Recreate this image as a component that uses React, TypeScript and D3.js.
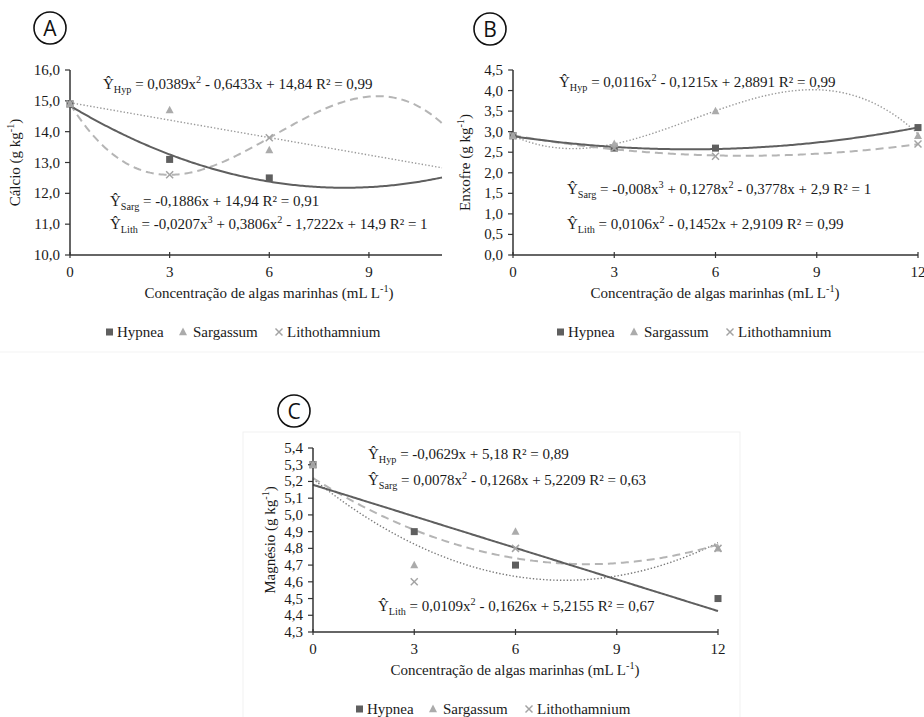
import React from 'react';
import * as d3 from 'd3';

// ---------- DATA ----------
const xLevelsA = [0, 3, 6];
const xLevels = [0, 3, 6, 12];

const calcioHypnea = [14.9, 13.1, 12.5];
const calcioSargassum = [14.9, 14.7, 13.4];
const calcioLitho = [14.9, 12.6, 13.8];

const enxofreHypnea = [2.9, 2.6, 2.6, 3.1];
const enxofreSargassum = [2.9, 2.7, 3.5, 2.9];
const enxofreLitho = [2.9, 2.6, 2.4, 2.7];

const magnesioHypnea = [5.3, 4.9, 4.7, 4.5];
const magnesioSargassum = [5.3, 4.7, 4.9, 4.8];
const magnesioLitho = [5.3, 4.6, 4.8, 4.8];

// trendline coefficients (ascending powers), as printed in the chart
const calcioHypCoef = [14.84, -0.6433, 0.0389];
const calcioSargCoef = [14.94, -0.1886];
const calcioLithCoef = [14.9, -1.7222, 0.3806, -0.0207];
const enxofreHypCoef = [2.8891, -0.1215, 0.0116];
const enxofreSargCoef = [2.9, -0.3778, 0.1278, -0.008];
const enxofreLithCoef = [2.9109, -0.1452, 0.0106];
const magnesioHypCoef = [5.18, -0.0629];
const magnesioSargCoef = [5.2209, -0.1268, 0.0078];
const magnesioLithCoef = [5.2155, -0.1626, 0.0109];

const xTicksA = [0, 3, 6, 9];
const xTicksBC = [0, 3, 6, 9, 12];
const yTicksA = [10, 11, 12, 13, 14, 15, 16];
const yTicksB = [0, 0.5, 1, 1.5, 2, 2.5, 3, 3.5, 4, 4.5];
const yTicksC = [4.3, 4.4, 4.5, 4.6, 4.7, 4.8, 4.9, 5.0, 5.1, 5.2, 5.3, 5.4];

const eqA = [
  'Ŷ_{Hyp} = 0,0389x^{2} - 0,6433x + 14,84 R² = 0,99',
  'Ŷ_{Sarg} = -0,1886x + 14,94 R² = 0,91',
  'Ŷ_{Lith} = -0,0207x^{3} + 0,3806x^{2} - 1,7222x + 14,9 R² = 1',
];
const eqB = [
  'Ŷ_{Hyp} = 0,0116x^{2} - 0,1215x + 2,8891 R² = 0,99',
  'Ŷ_{Sarg} = -0,008x^{3} + 0,1278x^{2} - 0,3778x + 2,9 R² = 1',
  'Ŷ_{Lith} = 0,0106x^{2} - 0,1452x + 2,9109 R² = 0,99',
];
const eqC = [
  'Ŷ_{Hyp} = -0,0629x + 5,18 R² = 0,89',
  'Ŷ_{Sarg} = 0,0078x^{2} - 0,1268x + 5,2209 R² = 0,63',
  'Ŷ_{Lith} = 0,0109x^{2} - 0,1626x + 5,2155 R² = 0,67',
];

const xTitle = 'Concentração de algas marinhas (mL L^{-1})';
const seriesNames = ['Hypnea', 'Sargassum', 'Lithothamnium'];

// ---------- STYLE ----------
const FONT = 'Liberation Serif';
const HYP_COLOR = '#5f5f5f';
const SARG_COLOR = '#ababab';
const LITH_COLOR = '#a3a3a3';
const AXIS_COLOR = '#333';
const TEXT_COLOR = '#1a1a1a';

const poly = (c: number[]) => (x: number) => c.reduce((s, a, i) => s + a * Math.pow(x, i), 0);

function Rich({ x, y, str, size = 15, anchor = 'start', transform }: any) {
  const parts = str.split(/(_\{[^}]*\}|\^\{[^}]*\})/).filter((p: string) => p.length);
  let off = 0;
  return (
    <text x={x} y={y} textAnchor={anchor} transform={transform} fontFamily={FONT} fontSize={size} fill={TEXT_COLOR}>
      {parts.map((p: string, i: number) => {
        let target = 0;
        let fs = size;
        let t = p;
        if (p.startsWith('_{')) { target = size * 0.28; fs = size * 0.68; t = p.slice(2, -1); }
        else if (p.startsWith('^{')) { target = -size * 0.38; fs = size * 0.68; t = p.slice(2, -1); }
        const dy = target - off;
        off = target;
        return <tspan key={i} dy={dy} fontSize={fs}>{t}</tspan>;
      })}
    </text>
  );
}

function Marker({ type, cx, cy }: any) {
  if (type === 0) return <rect x={cx - 3.5} y={cy - 3.5} width={7} height={7} fill={HYP_COLOR} />;
  if (type === 1) {
    const s = 8;
    const pts = [[cx, cy - s * 0.55], [cx - s / 2, cy + s * 0.4], [cx + s / 2, cy + s * 0.4]];
    return <polygon points={pts.map((p) => p.join(',')).join(' ')} fill={SARG_COLOR} />;
  }
  const r = 3.5;
  return (
    <g stroke={LITH_COLOR} strokeWidth={1.5}>
      <line x1={cx - r} y1={cy - r} x2={cx + r} y2={cy + r} />
      <line x1={cx - r} y1={cy + r} x2={cx + r} y2={cy - r} />
    </g>
  );
}

function Legend({ x, y }: any) {
  const offs = [[3.5, 11], [77, 87], [173, 181]];
  return (
    <g>
      {seriesNames.map((n, i) => (
        <g key={n}>
          <Marker type={i} cx={x + offs[i][0]} cy={y - 5} />
          <text x={x + offs[i][1]} y={y} fontFamily={FONT} fontSize={15} fill={TEXT_COLOR}>{n}</text>
        </g>
      ))}
    </g>
  );
}

function Panel(props: any) {
  const { x0, x1, xMax, y0, y1, yDomain, yTicks, xTicks, xs, series, curves, eqs, eqPos, yTitle, yTitleX, legendX, label, labelPos, xTitleX } = props;
  const xScale = d3.scaleLinear().domain([0, xMax]).range([x0, x1]);
  const ys = d3.scaleLinear().domain(yDomain).range([y0, y1]);
  const fmt = (v: number) => v.toFixed(1).replace('.', ',');
  const pts = d3.range(0, xMax + 0.0001, xMax / 200);
  return (
    <g>
      <circle cx={labelPos[0]} cy={labelPos[1]} r={16} fill="none" stroke="#111" strokeWidth={1.6} />
      <text x={labelPos[0]} y={labelPos[1] + 7.5} textAnchor="middle" fontFamily="Open Sans" fontSize={21} fill="#111">{label}</text>

      {curves.map((c: any, i: number) => {
        const f = poly(c.coef);
        const path = d3.line<number>().x((d) => xScale(d)).y((d) => ys(f(d)))(pts);
        return <path key={i} d={path || ''} fill="none" stroke={c.color} strokeWidth={c.width} strokeDasharray={c.dash} />;
      })}

      <line x1={x0} y1={y0} x2={x1} y2={y0} stroke={AXIS_COLOR} strokeWidth={1.5} />
      <line x1={x0} y1={y0} x2={x0} y2={ys(yDomain[1])} stroke={AXIS_COLOR} strokeWidth={1.5} />
      {xTicks.map((t: number) => (
        <g key={t}>
          <line x1={xScale(t)} x2={xScale(t)} y1={y0 - 3} y2={y0 + 3} stroke={AXIS_COLOR} strokeWidth={1.2} />
          <text x={xScale(t)} y={y0 + 22} textAnchor="middle" fontFamily={FONT} fontSize={15} fill={TEXT_COLOR}>{t}</text>
        </g>
      ))}
      {yTicks.map((t: number) => (
        <g key={t}>
          <line x1={x0 - 5} x2={x0} y1={ys(t)} y2={ys(t)} stroke={AXIS_COLOR} strokeWidth={1.2} />
          <text x={x0 - 10} y={ys(t) + 5} textAnchor="end" fontFamily={FONT} fontSize={15} fill={TEXT_COLOR}>{fmt(t)}</text>
        </g>
      ))}

      {series.map((s: number[], si: number) =>
        s.map((v, i) => <Marker key={si + '-' + i} type={si} cx={xScale(xs[i])} cy={ys(v)} />)
      )}

      {eqs.map((e: string, i: number) => (
        <Rich key={i} x={eqPos[i][0]} y={eqPos[i][1]} str={e} size={15} />
      ))}

      <Rich x={0} y={0} str={yTitle} size={15} anchor="middle" transform={`translate(${yTitleX},${(y0 + ys(yDomain[1])) / 2}) rotate(-90)`} />
      <Rich x={xTitleX} y={y0 + 43} str={xTitle} size={15} anchor="middle" />
      <Legend x={legendX} y={y0 + 82} />
    </g>
  );
}

export default function App() {
  const dotted = (color: string) => ({ color, width: 1.4, dash: '1.4,2' });
  const dashed = (color: string) => ({ color, width: 2, dash: '8,5' });
  const solid = { color: HYP_COLOR, width: 2, dash: undefined };
  return (
    <svg width={924} height={717} style={{ position: 'absolute', left: 0, top: 0, background: '#fff' }}>
      <line x1={0} x2={924} y1={352} y2={352} stroke="#f3f3f3" strokeWidth={1} />
      <rect x={243} y={432} width={497} height={300} fill="none" stroke="#f1f1f1" strokeWidth={1} />
      <Panel
        label="A" labelPos={[50, 28]}
        x0={70} x1={442} xMax={11.2}
        y0={255} y1={70} yDomain={[10, 16]} yTicks={yTicksA} xTicks={xTicksA}
        xs={xLevelsA}
        series={[calcioHypnea, calcioSargassum, calcioLitho]}
        curves={[
          { coef: calcioSargCoef, ...dotted('#9a9a9a') },
          { coef: calcioLithCoef, ...dashed('#b5b5b5') },
          { coef: calcioHypCoef, ...solid },
        ]}
        eqs={eqA} eqPos={[[103, 89], [110, 206], [110, 229]]}
        yTitle="Cálcio (g kg^{-1})" yTitleX={20} legendX={106} xTitleX={269}
      />
      <Panel
        label="B" labelPos={[490, 29]}
        x0={513} x1={918} xMax={12}
        y0={255} y1={70} yDomain={[0, 4.5]} yTicks={yTicksB} xTicks={xTicksBC}
        xs={xLevels}
        series={[enxofreHypnea, enxofreSargassum, enxofreLitho]}
        curves={[
          { coef: enxofreSargCoef, ...dotted('#9a9a9a') },
          { coef: enxofreLithCoef, ...dashed('#b5b5b5') },
          { coef: enxofreHypCoef, ...solid },
        ]}
        eqs={eqB} eqPos={[[559, 87], [567, 194], [567, 229]]}
        yTitle="Enxofre (g kg^{-1})" yTitleX={470} legendX={557} xTitleX={715}
      />
      <Panel
        label="C" labelPos={[294, 411]}
        x0={313} x1={718} xMax={12}
        y0={632} y1={448} yDomain={[4.3, 5.4]} yTicks={yTicksC} xTicks={xTicksBC}
        xs={xLevels}
        series={[magnesioHypnea, magnesioSargassum, magnesioLitho]}
        curves={[
          { coef: magnesioLithCoef, ...dotted('#7a7a7a') },
          { coef: magnesioSargCoef, ...dashed('#b5b5b5') },
          { coef: magnesioHypCoef, ...solid },
        ]}
        eqs={eqC} eqPos={[[368, 459], [368, 485], [378, 611]]}
        yTitle="Magnésio (g kg^{-1})" yTitleX={275} legendX={356} xTitleX={515}
      />
    </svg>
  );
}
